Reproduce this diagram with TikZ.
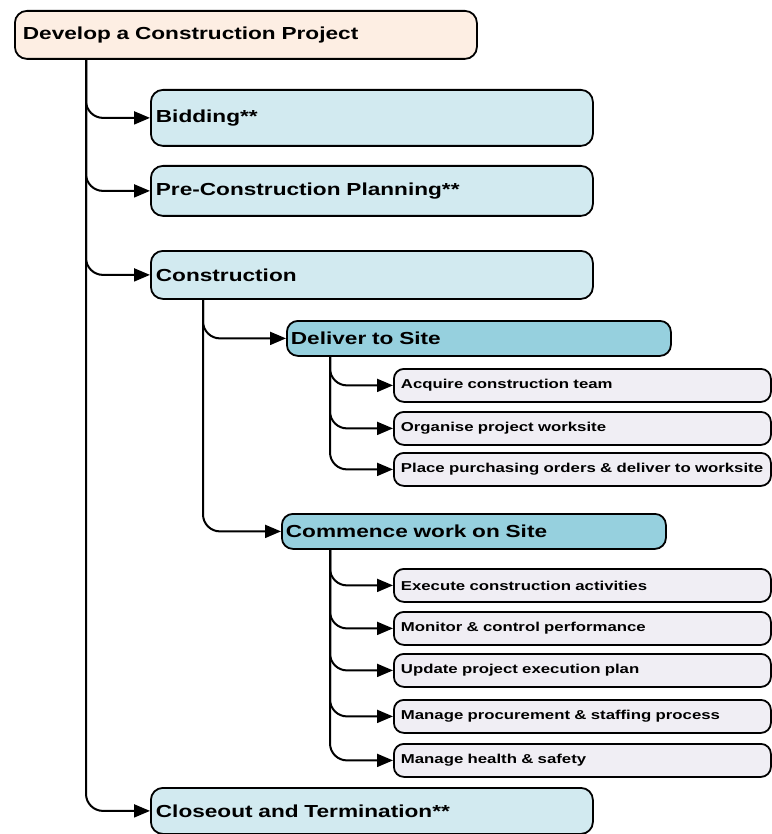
\documentclass[tikz,border=0pt]{standalone}
\usepackage{fontspec}
\setmainfont[FakeStretch=1.3]{Liberation Sans}
\usepackage{xcolor}
\usetikzlibrary{arrows.meta}

\definecolor{rootfill}{RGB}{253,238,227}
\definecolor{phasefill}{RGB}{210,234,240}
\definecolor{subfill}{RGB}{150,208,222}
\definecolor{actfill}{RGB}{240,238,244}

\tikzset{
  boxbase/.style={draw=black, line width=1.8pt, anchor=north west, align=left},
  roottask/.style={boxbase, fill=rootfill, rounded corners=12pt, inner xsep=8pt,
    text width=446pt, minimum height=48pt, font=\bfseries\fontsize{17.4}{20}\selectfont},
  phase/.style={boxbase, fill=phasefill, rounded corners=12pt, inner xsep=5pt,
    text width=432pt, minimum height=#1, font=\bfseries\fontsize{17.4}{20}\selectfont},
  subphase/.style={boxbase, fill=subfill, rounded corners=11pt, inner xsep=4pt,
    text width=376pt, minimum height=35pt, font=\bfseries\fontsize{17.4}{20}\selectfont},
  activity/.style={boxbase, fill=actfill, rounded corners=10pt, inner xsep=7pt,
    text width=363pt, minimum height=33pt, font=\bfseries\fontsize{12.9}{15}\selectfont},
  link/.style={draw=black, line width=2pt, rounded corners=17pt,
    -{Triangle[length=16pt,width=13pt]}}
}

\begin{document}
\begin{tikzpicture}[x=1pt, y=-1pt]
  \useasboundingbox (0,0) rectangle (771,834);

  \node[roottask] (root) at (14,10) {Develop a Construction Project};
  \node[phase=56pt] (bid) at (150,89) {Bidding**};
  \node[phase=50pt] (pre) at (150,165) {Pre-Construction Planning**};
  \node[phase=48pt] (con) at (150,250) {Construction};
  \node[subphase] (del) at (286,320) {Deliver to Site};
  \node[subphase] (com) at (281,513) {Commence work on Site};
  \node[phase=46pt] (clo) at (150,787) {Closeout and Termination**};

  \foreach \target in {bid, pre, con, clo}
    \draw[link] ([xshift=72pt]root.south west) |- (\target.west);
  \draw[link] ([xshift=53pt]con.south west) |- (del.west);
  \draw[link] ([xshift=53pt]con.south west) |- (com.west);

  \foreach \name/\y/\txt in {
      a1/368/Acquire construction team,
      a2/411/Organise project worksite,
      a3/452/Place purchasing orders \& deliver to worksite
    }{
      \node[activity] (\name) at (393,\y) {\txt};
      \draw[link] ([xshift=44pt]del.south west) |- (\name.west);
    }

  \foreach \name/\y/\txt in {
      b1/568/Execute construction activities,
      b2/611/Monitor \& control performance,
      b3/653/Update project execution plan,
      b4/699/Manage procurement \& staffing process,
      b5/743/Manage health \& safety
    }{
      \node[activity] (\name) at (393,\y) {\txt};
      \draw[link] ([xshift=49pt]com.south west) |- (\name.west);
    }
\end{tikzpicture}
\end{document}
